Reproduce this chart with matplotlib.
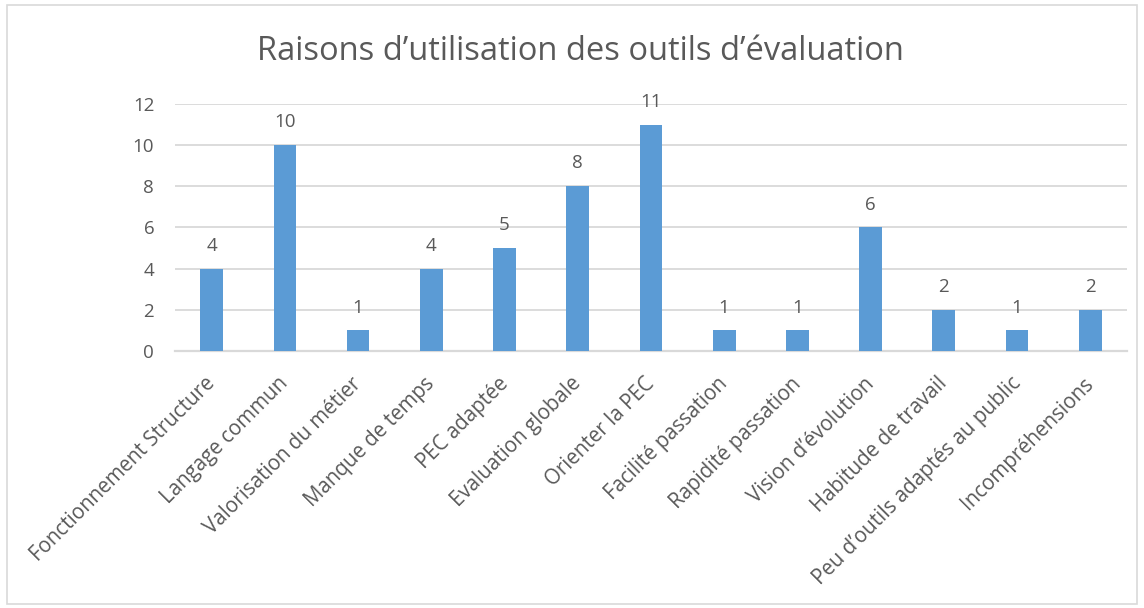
import matplotlib.pyplot as plt
from matplotlib.patches import Rectangle
from matplotlib.transforms import ScaledTranslation

categories = [
    "Fonctionnement Structure",
    "Langage commun",
    "Valorisation du métier",
    "Manque de temps",
    "PEC adaptée",
    "Evaluation globale",
    "Orienter la PEC",
    "Facilité passation",
    "Rapidité passation",
    "Vision d’évolution",
    "Habitude de travail",
    "Peu d’outils adaptés au public",
    "Incompréhensions",
]
counts = [4, 10, 1, 4, 5, 8, 11, 1, 1, 6, 2, 1, 2]
y_ticks = [0, 2, 4, 6, 8, 10, 12]

TEXT = "#595959"
GRID = "#d9d9d9"
BAR = "#5b9bd5"

plt.rcParams["font.family"] = ["Open Sans", "DejaVu Sans"]

fig = plt.figure(figsize=(11.44, 6.08), dpi=100)
ax = fig.add_axes([0.153, 0.4227, 0.832, 0.4063])

x = range(len(categories))
bars = ax.bar(x, counts, width=0.31, color=BAR, zorder=3)

# value labels above each bar
for bar, v in zip(bars, counts):
    ax.annotate(
        f"{v}",
        xy=(bar.get_x() + bar.get_width() / 2, v),
        xytext=(0, 10),
        textcoords="offset points",
        ha="center",
        va="bottom",
        fontsize=13.5,
        color=TEXT,
    )

ax.set_xlim(-0.5, len(categories) - 0.5)
ax.set_ylim(0, 12)
ax.set_yticks(y_ticks)
ax.set_yticklabels([str(t) for t in y_ticks], fontsize=13.5, color=TEXT)
ax.set_xticks(list(x))
ax.set_xticklabels(
    categories,
    rotation=45,
    ha="right",
    rotation_mode="anchor",
    fontsize=14.8,
    color=TEXT,
)
ax.tick_params(axis="y", length=0, pad=15)
ax.tick_params(axis="x", length=0, pad=16)

# nudge rotated labels a little to the left
shift = ScaledTranslation(-5 / 72, 0, fig.dpi_scale_trans)
for lbl in ax.get_xticklabels():
    lbl.set_transform(lbl.get_transform() + shift)

ax.grid(True, axis="y", color=GRID, linewidth=1.3, zorder=0)
ax.set_axisbelow(True)
for side in ["top", "right", "left"]:
    ax.spines[side].set_visible(False)
ax.spines["bottom"].set_color(GRID)
ax.spines["bottom"].set_linewidth(1.6)

fig.text(
    0.507, 0.915, "Raisons d’utilisation des outils d’évaluation",
    ha="center", va="center", fontsize=23.5, color=TEXT,
)

# outer chart border
fig.patches.append(
    Rectangle(
        (0.006, 0.006), 0.988, 0.985,
        transform=fig.transFigure, fill=False,
        edgecolor=GRID, linewidth=1.2,
    )
)

fig.savefig("out.png", dpi=100)
plt.close(fig)
